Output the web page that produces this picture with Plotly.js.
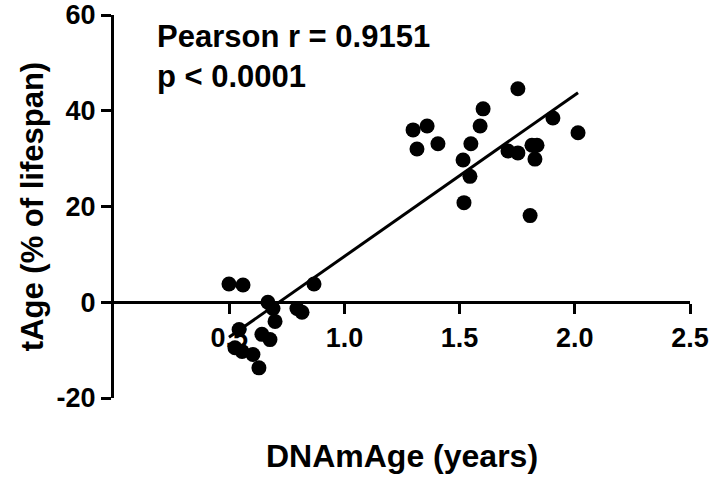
<!DOCTYPE html>
<html>
<head>
<meta charset="utf-8">
<script src="https://cdn.plot.ly/plotly-3.0.1.min.js"></script>
<style>html,body{margin:0;padding:0;background:#fff;}#chart{width:712px;height:481px;}</style>
</head>
<body>
<div id="chart"></div>
<script>
// DNAmAge (years) vs tAge (% of lifespan)
var dnamAge = [0.499, 0.560, 0.668, 0.690, 0.699, 0.794, 0.816, 0.868, 0.543, 0.642, 0.677, 0.525, 0.556, 0.603, 0.629,
               1.298, 1.359, 1.315, 1.406, 1.602, 1.589, 1.549, 1.515, 1.545, 1.519, 1.753, 1.710, 1.753, 1.814, 1.836, 1.827, 1.806, 1.905, 2.014];
var tAge    = [3.8, 3.6, 0.0, -1.3, -4.0, -1.3, -2.1, 3.8, -5.7, -6.7, -7.8, -9.5, -10.3, -10.9, -13.7,
               36.0, 36.8, 32.0, 33.1, 40.4, 36.8, 33.1, 29.7, 26.3, 20.8, 44.6, 31.6, 31.2, 32.8, 32.8, 29.9, 18.1, 38.5, 35.4];
var xTicks = [0.5, 1.0, 1.5, 2.0, 2.5];
var xTickText = ["0.5", "1.0", "1.5", "2.0", "2.5"];
var yTicks = [-20, 0, 20, 40, 60];
var yTickText = ["-20", "0", "20", "40", "60"];
var statText = ["Pearson r = 0.9151", "p &lt; 0.0001"];

// least-squares regression line over the data range
var n = dnamAge.length, sx = 0, sy = 0, sxx = 0, sxy = 0;
for (var i = 0; i < n; i++) { sx += dnamAge[i]; sy += tAge[i]; sxx += dnamAge[i]*dnamAge[i]; sxy += dnamAge[i]*tAge[i]; }
var slope = (n*sxy - sx*sy) / (n*sxx - sx*sx);
var intercept = (sy - slope*sx) / n;
var xmin = Math.min.apply(null, dnamAge), xmax = Math.max.apply(null, dnamAge);
var fitX = [xmin, xmax];
var fitY = fitX.map(function (v) { return intercept + slope*v; });

var font = {family: "Liberation Sans, Arial, sans-serif", color: "#000", weight: 700};
function f(size) { return Object.assign({}, font, {size: size}); }

var traces = [
  {x: dnamAge, y: tAge, type: "scatter", mode: "markers",
   marker: {color: "#000", size: 15}, hoverinfo: "x+y"},
  {x: fitX, y: fitY, type: "scatter", mode: "lines",
   line: {color: "#000", width: 3}, hoverinfo: "skip"}
];

var layout = {
  width: 712, height: 481,
  margin: {l: 114, r: 22, t: 15, b: 83},
  paper_bgcolor: "#fff", plot_bgcolor: "#fff",
  showlegend: false,
  font: f(27),
  xaxis: {
    range: [0, 2.5], anchor: "free", position: 0.25,
    showgrid: false, zeroline: false,
    showline: true, linecolor: "#000", linewidth: 3,
    ticks: "outside", ticklen: 10, tickwidth: 3, tickcolor: "#000",
    tickvals: xTicks, ticktext: xTickText, tickfont: f(27),
    layer: "below traces",
    title: {text: "DNAmAge (years)", font: f(32), standoff: 92}
  },
  yaxis: {
    range: [-20, 60],
    showgrid: false, zeroline: false,
    showline: true, linecolor: "#000", linewidth: 3,
    ticks: "outside", ticklen: 10, tickwidth: 3, tickcolor: "#000",
    tickvals: yTicks, ticktext: yTickText, tickfont: f(27),
    title: {text: "tAge (% of lifespan)", font: f(31), standoff: 4}
  },
  annotations: [
    {xref: "paper", yref: "paper", x: 0.072, y: 0.995, xanchor: "left", yanchor: "top",
     align: "left", showarrow: false, text: statText.join("<br>"), font: f(31)}
  ]
};

Plotly.newPlot("chart", traces, layout, {displayModeBar: false, staticPlot: true});
</script>
</body>
</html>
